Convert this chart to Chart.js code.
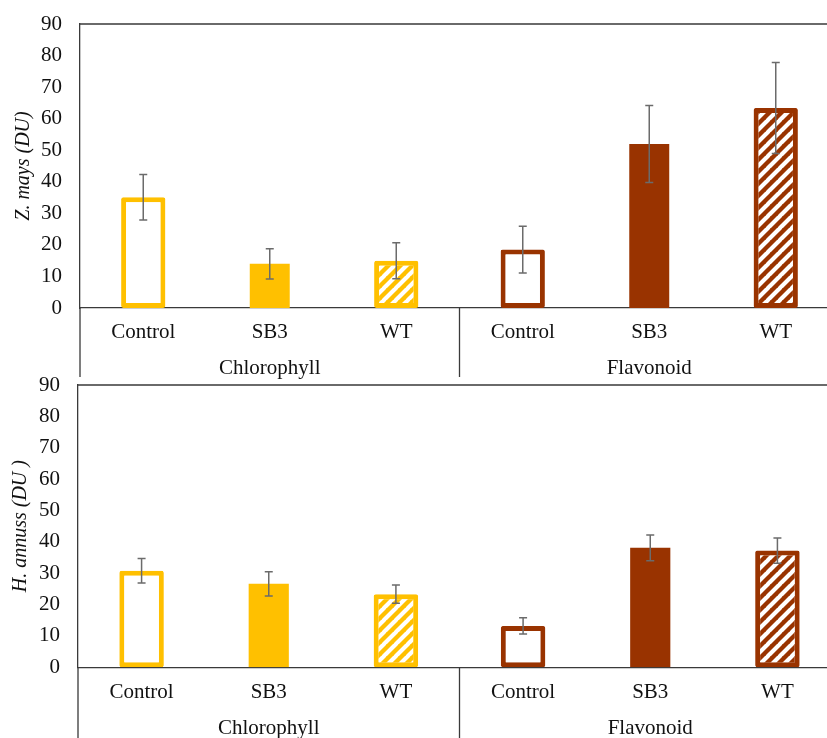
<!DOCTYPE html>
<html>
<head>
<meta charset="utf-8">
<script src="https://cdn.jsdelivr.net/npm/chart.js@4.4.1/dist/chart.umd.min.js"></script>
<style>
  html, body { margin: 0; padding: 0; background: #fff; overflow: hidden; width: 827px; height: 738px; }
  #wrap { position: relative; width: 827px; height: 738px; overflow: hidden; }
  .box { position: absolute; left: 0; }
  #boxTop { top: 0; }
  #boxBottom { top: 368px; }
</style>
</head>
<body>
<div id="wrap">
  <div class="box" id="boxTop"><canvas id="chartTop" width="845" height="380"></canvas></div>
  <div class="box" id="boxBottom"><canvas id="chartBottom" width="845" height="370"></canvas></div>
</div>
<script>
// Treatments and pigment groups
const categories = ['Control', 'SB3', 'WT', 'Control', 'SB3', 'WT'];
const groups = ['Chlorophyll', 'Flavonoid'];
const yTickValues = [0, 10, 20, 30, 40, 50, 60, 70, 80, 90];

// Z. mays readings (DU) and their error bars
const zMaysMeans  = [35.1, 14.0, 15.0, 18.5, 52.0, 63.4];
const zMaysErrors = [7.2, 4.8, 5.7, 7.4, 12.2, 14.4];

// H. annuus readings (DU) and their error bars
const hAnnuusMeans  = [30.8, 26.6, 23.3, 13.2, 38.1, 37.2];
const hAnnuusErrors = [3.9, 3.9, 2.9, 2.6, 4.1, 4.0];

// ---- styling ----
const SERIF = '"Liberation Serif", "Times New Roman", serif';
Chart.defaults.font.family = SERIF;
Chart.defaults.font.size = 21;
Chart.defaults.color = '#111';

const AXIS_COLOR = '#3a3a3a';
const ERR_COLOR = '#6b6b6b';
const groupColors = ['#FFC000', '#993300'];
const barKinds = ['open', 'solid', 'hatch', 'open', 'solid', 'hatch'];

function colorAt(i) { return groupColors[i < 3 ? 0 : 1]; }

function hatchPattern(color) {
  const s = 12;
  const c = document.createElement('canvas');
  c.width = s; c.height = s;
  const g = c.getContext('2d');
  g.fillStyle = color;
  g.fillRect(0, 0, s, s);
  g.strokeStyle = '#ffffff';
  g.lineWidth = 4.2;
  g.beginPath();
  for (let k = -1; k <= 1; k++) {
    g.moveTo(k * s - 1, s + 1);
    g.lineTo(k * s + s + 1, -1);
  }
  g.stroke();
  return g.createPattern(c, 'repeat');
}
const hatches = groupColors.map(hatchPattern);

function buildDatasets(values) {
  const framed = values.map((v, i) => barKinds[i] === 'solid' ? null : v);
  const filled = values.map((v, i) => barKinds[i] === 'solid' ? v : null);
  return [
    {
      data: framed,
      grouped: false,
      barPercentage: 0.35,
      categoryPercentage: 1,
      borderWidth: 5,
      borderSkipped: false,
      borderRadius: 2,
      borderColor: ctx => colorAt(ctx.dataIndex),
      backgroundColor: ctx => barKinds[ctx.dataIndex] === 'hatch'
        ? hatches[ctx.dataIndex < 3 ? 0 : 1] : '#ffffff'
    },
    {
      data: filled,
      grouped: false,
      barPercentage: 0.316,
      categoryPercentage: 1,
      borderWidth: 0,
      backgroundColor: ctx => colorAt(ctx.dataIndex)
    }
  ];
}

// Error bars, frame line and the group dividers below the axis
function decorations(means, errors, lineBottom) {
  return {
    id: 'decorations',
    afterDatasetsDraw(chart) {
      const { ctx, chartArea, scales: { x, y } } = chart;
      ctx.save();
      ctx.strokeStyle = ERR_COLOR;
      ctx.lineWidth = 1.5;
      means.forEach((m, i) => {
        const px = x.getPixelForValue(i);
        const top = y.getPixelForValue(m + errors[i]);
        const bot = y.getPixelForValue(m - errors[i]);
        ctx.beginPath();
        ctx.moveTo(px, top); ctx.lineTo(px, bot);
        ctx.moveTo(px - 4, top); ctx.lineTo(px + 4, top);
        ctx.moveTo(px - 4, bot); ctx.lineTo(px + 4, bot);
        ctx.stroke();
      });
      ctx.strokeStyle = AXIS_COLOR;
      ctx.lineWidth = 1.3;
      ctx.beginPath();
      // plot frame top edge
      ctx.moveTo(chartArea.left, chartArea.top);
      ctx.lineTo(chartArea.right, chartArea.top);
      // axis extension and group divider
      ctx.moveTo(chartArea.left, chartArea.bottom);
      ctx.lineTo(chartArea.left, lineBottom);
      const mid = x.getPixelForValue(2.5);
      ctx.moveTo(mid, chartArea.bottom);
      ctx.lineTo(mid, lineBottom);
      ctx.stroke();
      ctx.restore();
    }
  };
}

function makeChart(id, means, errors, cfg) {
  return new Chart(document.getElementById(id), {
    type: 'bar',
    data: { labels: categories, datasets: buildDatasets(means) },
    options: {
      responsive: false,
      animation: false,
      devicePixelRatio: 1,
      layout: { padding: { top: cfg.padTop, right: cfg.padRight, bottom: 0, left: 0 } },
      plugins: { legend: { display: false }, tooltip: { enabled: false } },
      scales: {
        x: {
          type: 'category',
          position: 'bottom',
          weight: 1,
          z: 1,
          offset: true,
          grid: { display: false, drawTicks: false },
          border: { display: true, color: AXIS_COLOR, width: 1.3 },
          ticks: { padding: cfg.catPad, color: '#111', maxRotation: 0, autoSkip: false },
          afterFit: s => { s.height = 36; s.paddingLeft = 0; s.paddingRight = 0; }
        },
        xg: {
          type: 'category',
          position: 'bottom',
          weight: 2,
          labels: groups,
          offset: true,
          grid: { display: false, drawTicks: false },
          border: { display: false },
          ticks: { padding: cfg.groupPad, color: '#111', maxRotation: 0, autoSkip: false },
          afterFit: s => { s.height = cfg.groupHeight; s.paddingLeft = 0; s.paddingRight = 0; }
        },
        y: {
          min: 0,
          max: 90,
          grid: { display: false, drawTicks: false },
          border: { display: true, color: AXIS_COLOR, width: 1.3 },
          ticks: { padding: 18, color: '#111' },
          afterBuildTicks: s => { s.ticks = yTickValues.map(v => ({ value: v })); },
          title: {
            display: true,
            text: cfg.title,
            color: '#111',
            font: { family: SERIF, size: 20, style: 'italic' },
            padding: { top: cfg.titlePad, bottom: 0 }
          },
          afterFit: s => { s.width = cfg.axisWidth; s.paddingTop = 0; s.paddingBottom = 0; }
        }
      }
    },
    plugins: [decorations(means, errors, cfg.lineBottom)]
  });
}

makeChart('chartTop', zMaysMeans, zMaysErrors, {
  title: 'Z. mays (DU)',
  padTop: 24, padRight: 6, axisWidth: 80,
  catPad: 12, groupPad: 11.5, groupHeight: 36,
  titlePad: 12, lineBottom: 377
});

makeChart('chartBottom', hAnnuusMeans, hAnnuusErrors, {
  title: 'H. annuss (DU )',
  padTop: 17, padRight: 4, axisWidth: 78,
  catPad: 13, groupPad: 13, groupHeight: 34.7,
  titlePad: 9, lineBottom: 370
});
</script>
</body>
</html>
